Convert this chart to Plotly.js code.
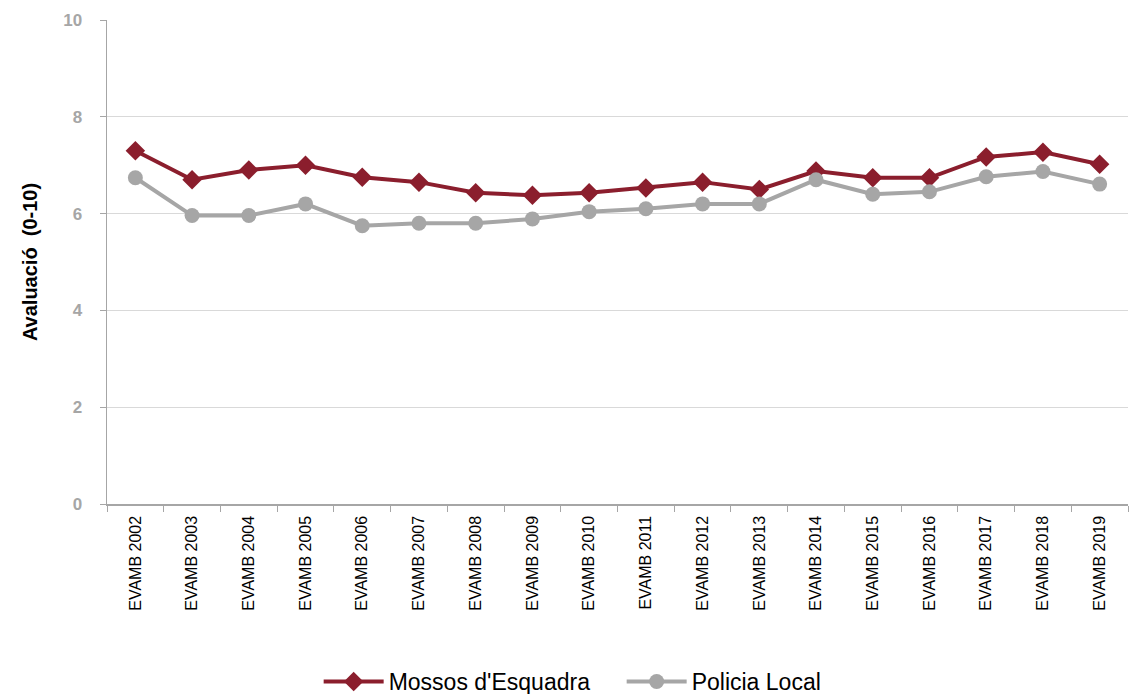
<!DOCTYPE html>
<html>
<head>
<meta charset="utf-8">
<script src="https://cdn.plot.ly/plotly-3.0.1.min.js"></script>
<style>html,body{margin:0;padding:0;background:#fff;}#chart{width:1130px;height:694px;}</style>
</head>
<body>
<div id="chart"></div>
<script>
const categories = ["EVAMB 2002","EVAMB 2003","EVAMB 2004","EVAMB 2005","EVAMB 2006","EVAMB 2007","EVAMB 2008","EVAMB 2009","EVAMB 2010","EVAMB 2011","EVAMB 2012","EVAMB 2013","EVAMB 2014","EVAMB 2015","EVAMB 2016","EVAMB 2017","EVAMB 2018","EVAMB 2019"];
const mossos = [7.3, 6.7, 6.9, 7.0, 6.75, 6.65, 6.43, 6.38, 6.43, 6.53, 6.65, 6.5, 6.88, 6.74, 6.74, 7.17, 7.27, 7.02];
const policia = [6.74, 5.96, 5.96, 6.2, 5.75, 5.8, 5.8, 5.89, 6.04, 6.1, 6.2, 6.2, 6.7, 6.4, 6.45, 6.76, 6.87, 6.61];
const yTicks = [0, 2, 4, 6, 8, 10];

const traces = [
  {x: categories, y: mossos, name: "Mossos d'Esquadra", type: "scatter", mode: "lines+markers",
   line: {color: "#8B1E2D", width: 4}, marker: {symbol: "diamond", size: 15, color: "#8B1E2D"}},
  {x: categories, y: policia, name: "Policia Local", type: "scatter", mode: "lines+markers",
   line: {color: "#A6A6A6", width: 4}, marker: {symbol: "circle", size: 15, color: "#A6A6A6"}}
];

const layout = {
  width: 1130, height: 694,
  margin: {l: 107, r: 2, t: 20, b: 190, autoexpand: false},
  paper_bgcolor: "#fff", plot_bgcolor: "#fff",
  font: {family: "Liberation Sans, Arial, sans-serif"},
  showlegend: true,
  legend: {orientation: "h", x: 0.282, xref: "container", xanchor: "left", y: 0.018, yref: "container", yanchor: "middle",
    font: {size: 23, color: "#000", family: "Liberation Sans, Arial, sans-serif"}, itemwidth: 60, entrywidth: 228, traceorder: "normal"},
  xaxis: {type: "category", range: [-0.5, 17.5], tickangle: -90, automargin: false,
    tickfont: {size: 16, color: "#000", family: "Liberation Sans, Arial, sans-serif"},
    showline: true, linecolor: "#A6A6A6", linewidth: 1.5, showgrid: false,
    ticks: "outside", tickson: "boundaries", ticklen: 6, tickcolor: "#A6A6A6", zeroline: false, ticklabelstandoff: 4},
  yaxis: {range: [0, 10], tickvals: yTicks, ticktext: yTicks.map(v => "<b>" + v + "</b>"), automargin: false,
    tickfont: {size: 17, color: "#A6A6A6", family: "Liberation Sans, Arial, sans-serif"},
    showline: true, linecolor: "#A6A6A6", linewidth: 1.5, showgrid: true, gridcolor: "#D9D9D9", gridwidth: 1,
    ticks: "outside", ticklen: 6, tickcolor: "#A6A6A6", zeroline: false, ticklabelstandoff: 14,
    title: {text: "<b>Avaluació  (0-10)</b>", font: {size: 20, color: "#000"}, standoff: 20}}
};

Plotly.newPlot("chart", traces, layout, {displayModeBar: false, staticPlot: true});
</script>
</body>
</html>
